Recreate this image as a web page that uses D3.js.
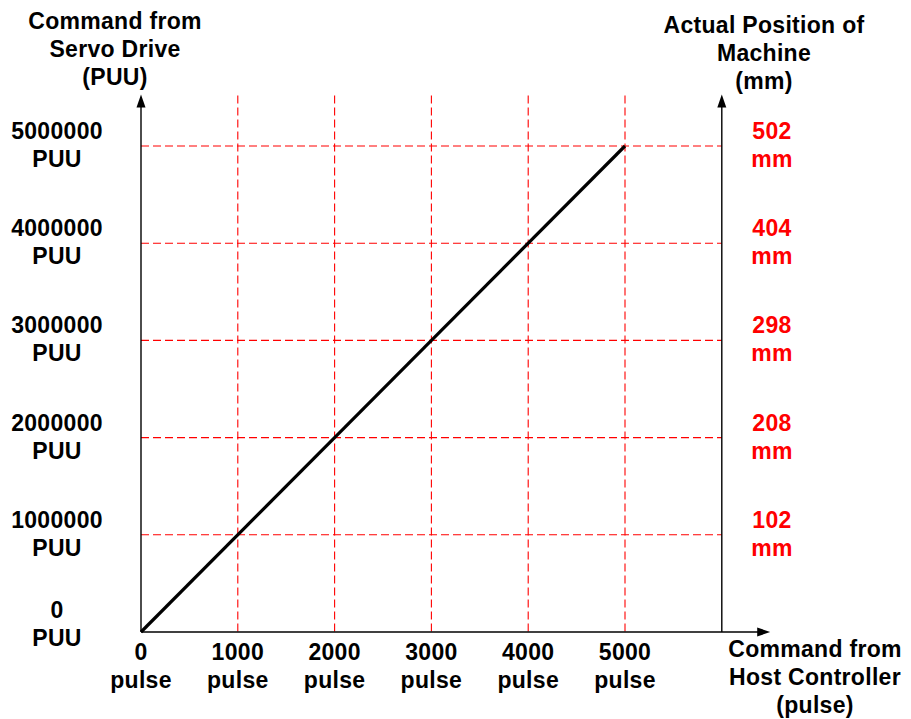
<!DOCTYPE html>
<html>
<head>
<meta charset="utf-8">
<script src="https://cdn.jsdelivr.net/npm/d3@7/dist/d3.min.js"></script>
<style>
  html, body { margin: 0; padding: 0; background: #fff; }
  svg text { font-family: "Liberation Sans", Arial, sans-serif; font-weight: bold; font-size: 23px; letter-spacing: 0.3px; }
</style>
</head>
<body>
<svg id="chart" width="911" height="719"></svg>
<script>
// ---- data ----
const pulseTicks = [0, 1000, 2000, 3000, 4000, 5000];
const puuTicks = [0, 1000000, 2000000, 3000000, 4000000, 5000000];
const mmTicks = [1000000, 2000000, 3000000, 4000000, 5000000];
const mmValues = [102, 208, 298, 404, 502];
const linePoints = [[0, 0], [5000, 5000000]];
const leftTitle = ["Command from", "Servo Drive", "(PUU)"];
const rightTitle = ["Actual Position of", "Machine", "(mm)"];
const bottomTitle = ["Command from", "Host Controller", "(pulse)"];

// ---- scales ----
const x = d3.scaleLinear().domain([0, 5000]).range([141, 625]);
const y = d3.scaleLinear().domain([0, 5000000]).range([632, 146]);
const xRightAxis = x(6000);
const xArrowEnd = x(6500);
const yArrowEnd = y(5530000);
const yGridTop = y(5520000);

const svg = d3.select("#chart");

// grid (red dashed)
const grid = svg.append("g").attr("stroke", "#ff0000").attr("stroke-width", 1.1)
  .attr("stroke-dasharray", "8,4").attr("fill", "none");
grid.selectAll("line.h").data(mmTicks).enter().append("line")
  .attr("x1", x(0)).attr("x2", xRightAxis)
  .attr("y1", d => y(d)).attr("y2", d => y(d));
grid.selectAll("line.v").data(pulseTicks.slice(1)).enter().append("line")
  .attr("x1", d => x(d)).attr("x2", d => x(d))
  .attr("y1", yGridTop).attr("y2", y(0));

// axes
const axes = svg.append("g").attr("stroke", "#000").attr("stroke-width", 1.4);
axes.append("line").attr("x1", x(0)).attr("x2", x(0)).attr("y1", y(0)).attr("y2", yArrowEnd + 8);
axes.append("line").attr("x1", xRightAxis).attr("x2", xRightAxis).attr("y1", y(0)).attr("y2", yArrowEnd + 8);
axes.append("line").attr("x1", x(0)).attr("x2", xArrowEnd - 8).attr("y1", y(0)).attr("y2", y(0));

// arrowheads
const heads = svg.append("g").attr("fill", "#000");
[x(0), xRightAxis].forEach(cx => {
  heads.append("path").attr("d", `M${cx},${yArrowEnd} L${cx - 4.5},${yArrowEnd + 13} L${cx + 4.5},${yArrowEnd + 13} Z`);
});
heads.append("path").attr("d", `M${xArrowEnd},${y(0)} L${xArrowEnd - 13},${y(0) - 4.5} L${xArrowEnd - 13},${y(0) + 4.5} Z`);

// diagonal line
svg.append("path").datum(linePoints)
  .attr("fill", "none").attr("stroke", "#000").attr("stroke-width", 3.2)
  .attr("d", d3.line().x(d => x(d[0])).y(d => y(d[1])));

// left labels
const leftLab = svg.append("g").attr("text-anchor", "middle").attr("fill", "#000");
puuTicks.forEach(v => {
  const off = v === 0 ? -7 : 0;
  const t = leftLab.append("text").attr("x", 57).attr("y", y(v) - 7 + off);
  t.append("tspan").attr("x", 57).text(v);
  t.append("tspan").attr("x", 57).attr("dy", 28).text("PUU");
});

// right labels (red)
const rightLab = svg.append("g").attr("text-anchor", "middle").attr("fill", "#ff0000");
mmTicks.forEach((v, i) => {
  const t = rightLab.append("text").attr("x", 772).attr("y", y(v) - 7);
  t.append("tspan").attr("x", 772).text(mmValues[i]);
  t.append("tspan").attr("x", 772).attr("dy", 28).text("mm");
});

// bottom labels
const botLab = svg.append("g").attr("text-anchor", "middle").attr("fill", "#000");
pulseTicks.forEach(v => {
  const t = botLab.append("text").attr("x", x(v)).attr("y", 660);
  t.append("tspan").attr("x", x(v)).text(v);
  t.append("tspan").attr("x", x(v)).attr("dy", 28).text("pulse");
});

// titles
function title(lines, cx, y0) {
  const t = svg.append("text").attr("text-anchor", "middle").attr("fill", "#000").attr("y", y0);
  lines.forEach((s, i) => t.append("tspan").attr("x", cx).attr("dy", i === 0 ? 0 : 28).text(s));
}
title(leftTitle, 115, 29);
title(rightTitle, 764, 33);
title(bottomTitle, 815, 657);
</script>
</body>
</html>
